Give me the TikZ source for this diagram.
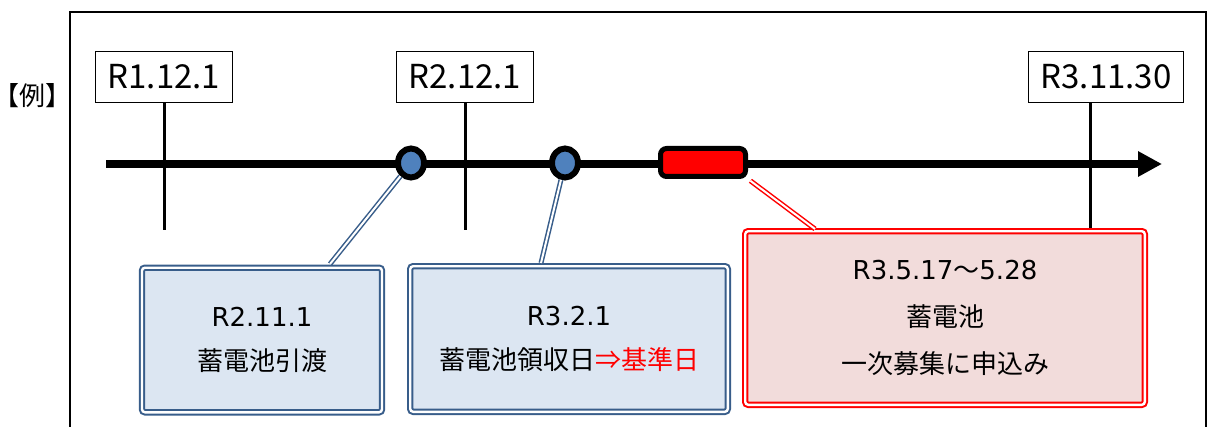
\documentclass[tikz,border=0pt]{standalone}
\usepackage{fontspec}
\setmainfont{Noto Sans CJK JP}
\newfontfamily\datefont{DejaVu Sans}
\usepackage{xcolor}
\usetikzlibrary{arrows.meta}
\usetikzlibrary{shapes.geometric}
\definecolor{boxblue}{RGB}{56,93,138}
\definecolor{fillblue}{RGB}{220,230,242}
\definecolor{dotblue}{RGB}{79,129,189}
\definecolor{fillred}{RGB}{242,220,219}

\begin{document}
\begin{tikzpicture}[x=0.5pt,y=-0.5pt,
  datebox/.style={draw,line width=0.75pt,fill=white,inner xsep=6pt,minimum height=25.5pt,
    font=\fontsize{16.5}{19}\selectfont},
  datetick/.style={line width=1.5pt},
  timeline/.style={line width=4pt,-{Triangle[length=12pt,width=12pt]}},
  event/.style={ellipse,draw,line width=3pt,fill=dotblue,minimum width=13pt,
    minimum height=14.5pt,inner sep=0pt},
  infobox/.style={draw=boxblue,double=white,line width=1pt,double distance=1.2pt,
    fill=fillblue,rounded corners=1.5pt,align=center,font=\fontsize{13}{22}\selectfont},
  redbox/.style={infobox,draw=red,fill=fillred,font=\fontsize{13}{23.5}\selectfont},
  blueline/.style={draw=boxblue,double=white,line width=0.75pt,double distance=1pt},
  redline/.style={blueline,draw=red}]
  \useasboundingbox (0,0) rectangle (1208,427);
  % frame and label
  \draw[line width=1pt] (70,430) |- (1206,12) -- (1206,430);
  \node[inner sep=0pt,font=\fontsize{13}{15}\selectfont] (example) at (33,96)
    {\makebox[0.5em][r]{【}例\makebox[0.5em][l]{】}};
  % dates
  \node[datebox] (d1) at (164,77) {R1.12.1};
  \node[datebox] (d2) at (465,77) {R2.12.1};
  \node[datebox] (d3) at (1106,77) {R3.11.30};
  \draw[datetick] (d1.south) -- ++(0,127);
  \draw[datetick] (d2.south) -- ++(0,127);
  \draw[datetick] ([xshift=-8pt]d3.south) -- ++(0,127);
  \draw[timeline] (106,164) -- (1162,164);
  % events
  \node[event] (handover) at (411,163) {};
  \node[event] (receipt) at (565,163) {};
  \node[draw,line width=2.5pt,fill=red,rounded corners=3pt,minimum width=42.5pt,
    minimum height=14pt,inner sep=0pt] (apply) at (703,162.5) {};
  % boxes
  \node[infobox,minimum width=120pt,minimum height=72.3pt] (handoverbox) at (262,340)
    {{\datefont R2.11.1}\\蓄電池引渡};
  \node[infobox,minimum width=158.8pt,minimum height=72.8pt] (receiptbox) at (569,339)
    {{\datefont R3.2.1}\\蓄電池領収日\textcolor{red}{⇒基準日}};
  \node[redbox,minimum width=199.8pt,minimum height=86.8pt] (applybox) at (945,318)
    {{\datefont R3.5.17}～{\datefont 5.28}\\蓄電池\\一次募集に申込み};
  % connectors
  \coordinate (handoverend) at (330,264);
  \coordinate (receiptend) at (541,263);
  \coordinate (applyend) at (815,229);
  \draw[blueline] (handover) -- (handoverend);
  \draw[blueline] (receipt) -- (receiptend);
  \draw[redline,shorten <=1.5pt] (apply.south east) -- (applyend);
\end{tikzpicture}
\end{document}
